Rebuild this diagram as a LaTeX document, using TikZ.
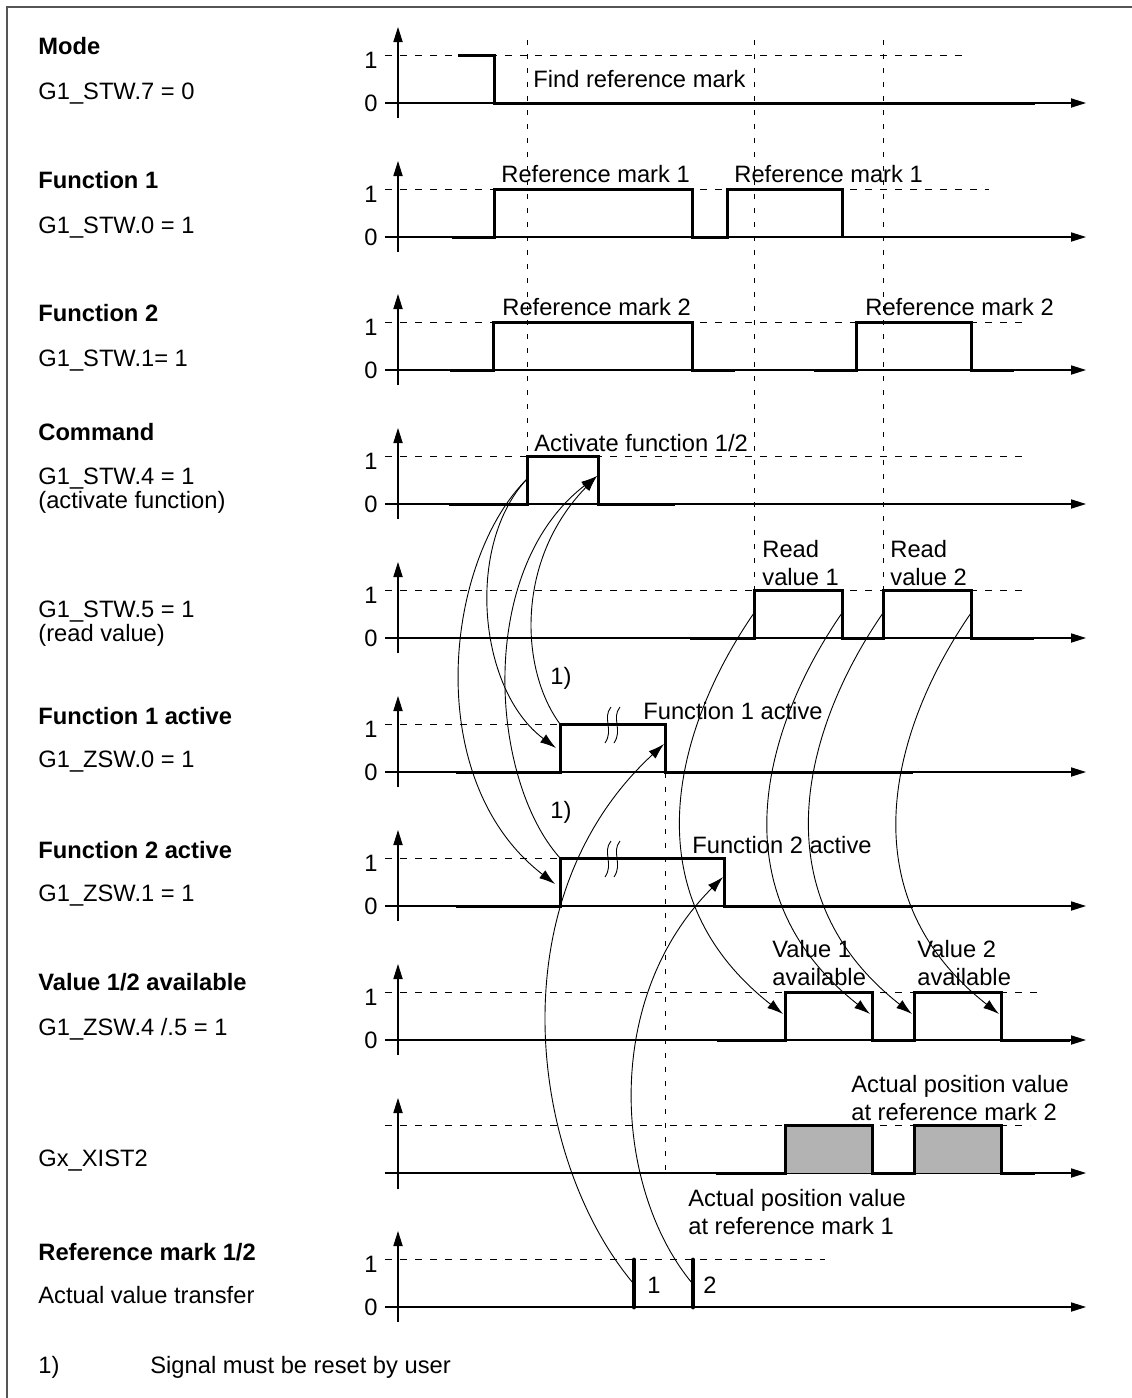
\documentclass[tikz,border=0pt]{standalone}
\usepackage{fontspec}
\setmainfont{Liberation Sans}
\usetikzlibrary{arrows.meta}
\definecolor{boxgray}{HTML}{B3B3B3}
\definecolor{framegray}{HTML}{555555}
\begin{document}
\begin{tikzpicture}[x=0.5pt,y=-0.5pt,
  txt/.style={font=\fontsize{11.85}{14}\selectfont, inner sep=0pt},
  lbl/.style={txt, anchor=base west, align=left},
  boldlbl/.style={anchor=base west, inner sep=0pt, font=\fontsize{11.85}{14}\selectfont\bfseries},
  axlbl/.style={txt, anchor=base},
  axis/.style={line width=0.55pt, -{Triangle[length=7.5pt,width=4.6pt]}},
  lvl/.style={line width=0.5pt, dash pattern=on 3.5pt off 4pt},
  guide/.style={line width=0.5pt, dash pattern=on 2.6pt off 4.4pt},
  sig/.style={line width=1.5pt, line join=miter},
  bar/.style={line width=2.4pt, line cap=round},
  conn/.style={line width=0.45pt, -{Latex[length=8pt,width=5pt]}},
  brk/.style={line width=0.45pt}
]
\useasboundingbox (0,0) rectangle (1131,1398);
% frame
\draw[framegray, line width=1pt] (7,1400) -- (7,7) -- (1133,7);

% axes with 0/1 labels
\foreach \yz/\de/\nm in {103/965/a, 237/989/b, 370/1025/c, 504/1025/d, 638/1023/e, 772/560/f, 906/560/g, 1040/1037/h, 1307/825/k}{
  \draw[axis] (385,\yz) -- (1086,\yz);
  \draw[axis] (398,\yz+15) -- (398,\yz-76);
  \draw[lvl] (385,\yz-48) -- (\de,\yz-48);
  \node[axlbl] (one\nm) at (371,\yz-35) {1};
  \node[axlbl] (zero\nm) at (371,\yz+8.5) {0};
}
% Gx_XIST2 axes (no labels)
\draw[axis] (385,1173) -- (1086,1173);
\draw[axis] (398,1189) -- (398,1098);
\draw[lvl] (385,1125) -- (1030,1125);

% vertical guides
\draw[guide] (527,40) -- (527,455);
\draw[guide] (754,40) -- (754,589);
\draw[guide] (883,40) -- (883,589);
\draw[guide] (665,773) -- (665,1172);

% left labels
\node[boldlbl] (lmode) at (38,54) {Mode};
\node[lbl] (lmode2) at (38,99) {G1\_STW.7 = 0};
\node[boldlbl] (lf1) at (38,188) {Function 1};
\node[lbl] (lf12) at (38,233) {G1\_STW.0 = 1};
\node[boldlbl] (lf2) at (38,321) {Function 2};
\node[lbl] (lf22) at (38,366) {G1\_STW.1= 1};
\node[boldlbl] (lcmd) at (38,440) {Command};
\node[lbl] (lcmd2) at (38,484) {G1\_STW.4 = 1};
\node[lbl] (lcmd3) at (38,508) {(activate function)};
\node[lbl] (lrd) at (38,617) {G1\_STW.5 = 1};
\node[lbl] (lrd2) at (38,641) {(read value)};
\node[boldlbl] (lfa1) at (38,724) {Function 1 active};
\node[lbl] (lfa12) at (38,767) {G1\_ZSW.0 = 1};
\node[boldlbl] (lfa2) at (38,858) {Function 2 active};
\node[lbl] (lfa22) at (38,901) {G1\_ZSW.1 = 1};
\node[boldlbl] (lval) at (38,990) {Value 1/2 available};
\node[lbl] (lval2) at (38,1035) {G1\_ZSW.4 /.5 = 1};
\node[lbl] (lxist) at (38,1166) {Gx\_XIST2};
\node[boldlbl] (lref) at (38,1260) {Reference mark 1/2};
\node[lbl] (lref2) at (38,1303) {Actual value transfer};
\node[lbl] (fn1) at (38,1373) {1)};
\node[lbl] (fn2) at (150,1373) {Signal must be reset by user};

% signals
\draw[sig] (458,55) -- (494,55) -- (494,103) -- (1035,103);
\draw[sig] (452,237) -- (494,237) -- (494,189) -- (692,189) -- (692,237) -- (727,237) -- (727,189) -- (842,189) -- (842,237);
\draw[sig] (450,370) -- (493,370) -- (493,322) -- (692,322) -- (692,370) -- (735,370);
\draw[sig] (814,370) -- (856,370) -- (856,322) -- (971,322) -- (971,370) -- (1014,370);
\draw[sig] (449,504) -- (527,504) -- (527,456) -- (598,456) -- (598,504) -- (675,504);
\draw[sig] (690,638) -- (754,638) -- (754,590) -- (842,590) -- (842,638) -- (883,638) -- (883,590) -- (971,590) -- (971,638) -- (1034,638);
\draw[sig] (456,772) -- (560,772) -- (560,724) -- (665,724) -- (665,772) -- (913,772);
\draw[sig] (456,906) -- (560,906) -- (560,858) -- (724,858) -- (724,906) -- (913,906);
\draw[sig] (717,1040) -- (785,1040) -- (785,992) -- (872,992) -- (872,1040) -- (914,1040) -- (914,992) -- (1001,992) -- (1001,1040) -- (1070,1040);
\fill[boxgray] (785,1125) rectangle (872,1173);
\fill[boxgray] (914,1125) rectangle (1001,1173);
\draw[sig] (716,1173) -- (785,1173) -- (785,1125) -- (872,1125) -- (872,1173) -- (914,1173) -- (914,1125) -- (1001,1125) -- (1001,1173) -- (1035,1173);
\draw[bar] (634,1260) -- (634,1307);
\draw[bar] (693,1260) -- (693,1307);

% break marks
\foreach \by in {724,858}{
  \foreach \bx in {608,617}{
    \draw[brk] (\bx+3,\by-17) .. controls (\bx-6,\by-6) and (\bx+6,\by+6) .. (\bx-3,\by+19);
  }
}

% signal labels (multi-line nodes: anchor at baseline of last line)
\node[lbl] (tfind) at (533,87) {Find reference mark};
\node[lbl] (tref1a) at (501,182) {Reference mark 1};
\node[lbl] (tref1b) at (734,182) {Reference mark 1};
\node[lbl] (tref2a) at (502,315) {Reference mark 2};
\node[lbl] (tref2b) at (865,315) {Reference mark 2};
\node[lbl] (tact) at (534,451) {Activate function 1/2};
\node[lbl] (tread1) at (762,585) {Read\\value 1};
\node[lbl] (tread2) at (890,585) {Read\\value 2};
\node[lbl] (tfa1) at (643,719) {Function 1 active};
\node[lbl] (tfa2) at (692,853) {Function 2 active};
\node[lbl] (tval1) at (772,985) {Value 1\\available};
\node[lbl] (tval2) at (917,985) {Value 2\\available};
\node[lbl] (tpos2) at (851,1120) {Actual position value\\at reference mark 2};
\node[lbl] (tpos1) at (688,1234) {Actual position value\\at reference mark 1};
\node[lbl] (tb1) at (647,1293) {1};
\node[lbl] (tb2) at (703,1293) {2};
\node[lbl] (tn1) at (550,684) {1)};
\node[lbl] (tn2) at (550,818) {1)};

% connector end points
\coordinate (cmdR) at (527,479);
\coordinate (cmdF) at (597,476);
\coordinate (f1R) at (556,748);
\coordinate (f2R) at (555,884);
\coordinate (f1C) at (560,724);
\coordinate (f2C) at (560,858);
\coordinate (f1F) at (664,744);
\coordinate (f2F) at (723,877);
\coordinate (b1) at (633,1283);
\coordinate (b2) at (692,1283);
\coordinate (r1R) at (754,613);
\coordinate (r1F) at (842,613);
\coordinate (r2R) at (883,613);
\coordinate (r2F) at (971,613);
\coordinate (v1R) at (783,1014);
\coordinate (v1F) at (870,1014);
\coordinate (v2R) at (912,1014);
\coordinate (v2F) at (999,1014);

% connectors
\draw[conn] (cmdR) .. controls (465,545) and (478,690) .. (f1R);
\draw[conn] (cmdR) .. controls (445,560) and (420,780) .. (f2R);
\draw[conn] (f1C) .. controls (520,670) and (515,560) .. (cmdF);
\draw[conn] (f2C) .. controls (490,780) and (475,570) .. (cmdF);
\draw[conn] (b1) .. controls (530,1160) and (495,900) .. (f1F);
\draw[conn] (b2) .. controls (615,1190) and (600,1000) .. (f2F);
\draw[conn] (r1R) .. controls +(-74,107) and +(-158,-124) .. (v1R);
\draw[conn] (r1F) .. controls +(-74,107) and +(-158,-124) .. (v1F);
\draw[conn] (r2R) .. controls +(-74,107) and +(-158,-124) .. (v2R);
\draw[conn] (r2F) .. controls +(-74,107) and +(-158,-124) .. (v2F);
\end{tikzpicture}
\end{document}
